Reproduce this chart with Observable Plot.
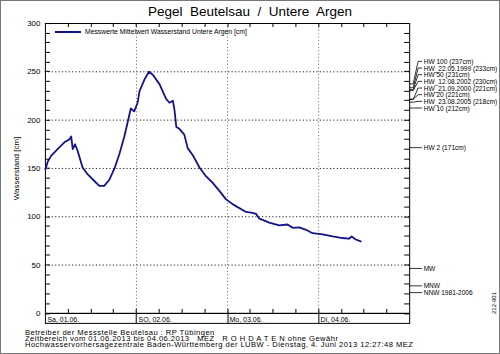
<!DOCTYPE html>
<html><head><meta charset="utf-8">
<script src="https://cdn.jsdelivr.net/npm/d3@7"></script>
<script src="https://cdn.jsdelivr.net/npm/@observablehq/plot@0.6"></script>
<style>
body{margin:0;background:#fff;}
#wrap{position:relative;width:500px;height:354px;box-sizing:border-box;border:1px solid #777;overflow:hidden;font-family:"Liberation Sans",Arial,sans-serif;color:#000;background:#fff;}
#title{position:absolute;left:-1px;width:500px;top:3px;text-align:center;font-size:13.5px;line-height:16px;white-space:pre;}
#chart{position:absolute;left:-1px;top:15px;}
#legend{position:absolute;left:54px;top:26px;height:9px;}
#legend .sw{position:absolute;left:0;top:3.5px;width:26px;height:2.5px;background:#13138a;}
#legend .tx{position:absolute;left:30px;top:0;font-size:6.8px;line-height:9px;white-space:nowrap;}
#footer{position:absolute;left:24px;top:329px;font-size:7.6px;line-height:6.2px;white-space:pre;letter-spacing:0.45px;}
#code{position:absolute;left:490px;top:313px;font-size:6px;transform:rotate(-90deg);transform-origin:0 0;white-space:nowrap;}
</style></head>
<body>
<div id="wrap">
  <div id="title"></div>
  <div id="chart"></div>
  <div id="legend"><div class="sw"></div><div class="tx"></div></div>
  <div id="footer"></div>
  <div id="code"></div>
</div>
<script>
// ---- data ----
const titleText = "Pegel  Beutelsau  /  Untere  Argen";
const seriesName = "Messwerte Mittelwert Wasserstand Untere Argen [cm]";
const yLabel = "Wasserstand [cm]";
const startUTC = Date.UTC(2013, 5, 1); // 01.06.2013 00:00 MEZ
const hours = [0,0.6,1.5,3.2,5,6.3,6.8,7.2,7.8,8.5,9.8,11.1,12.9,14.2,15.5,16.8,18.2,19.5,20.8,22.1,22.5,23.4,24.3,24.8,26.1,27.3,28.3,30.1,31.8,32.7,33.6,34.0,34.5,35.3,36.6,37.5,38.8,40.6,42.3,44.1,45.8,47.6,49.4,50.2,52.9,54.6,55.5,56.4,59,61.6,63.8,65.2,66.9,68.7,70.4,73.1,75.7,78.3,80.0,80.7,81.8,83.1];
const levels = [149,157,163,170,177,180,183,170,175,168,151,144,137,132,132,138,150,165,183,205,212,209,218,230,242,250,247,237,222,218,220,211,193,191,185,171,164,151,142,135,127,118,113,111,105,104,103,98,94,91,92,88.5,89,86.5,83,81.7,79.6,78,77.3,79.6,76.5,74.5];
const refNames = ["HW 100 (237cm)","HW_22.05.1999 (233cm)","HW 50 (231cm)","HW_12.08.2002 (230cm)","HW_21.09.2000 (221cm)","HW 20 (221cm)","HW_23.08.2005 (218cm)","HW 10 (212cm)","HW 2 (171cm)","MW","MNW","NNW 1981-2006"];
const refValues = [237,233,231,230,221,221,218,212,171,46,28,21];
const dayLabels = ["Sa, 01.06.","SO, 02.06.","Mo, 03.06.","Di, 04.06."];
const yTickValues = [0,50,100,150,200,250,300];
const gridValues = [50,100,150,200,250];
const footerLines = [
  "Betreiber der Messstelle Beutelsau : RP Tübingen",
  "Zeitbereich vom 01.06.2013 bis 04.06.2013   MEZ   R O H D A T E N ohne Gewähr",
  "Hochwasservorhersagezentrale Baden-Württemberg der LUBW - Dienstag, 4. Juni 2013 12:27:48 MEZ"
];
const codeText = "212-901";

// ---- build ----
const H = 3600e3;
const series = hours.map((h, i) => ({t: new Date(startUTC + h * H), v: levels[i]}));
const days = dayLabels.map((name, i) => ({t: new Date(startUTC + i * 24 * H), name}));
const dayLines = days.slice(1).map(d => d.t);
const endDate = new Date(startUTC + 4 * 24 * H);

// spread reference labels so they don't overlap
const gap = 6.9;
const refs = refNames.map((name, i) => ({name, v: refValues[i]}));
const sorted = refs.slice().sort((a, b) => b.v - a.v);
for (let i = sorted.length - 1; i >= 0; --i) {
  const below = sorted[i + 1];
  sorted[i].pos = below ? Math.max(sorted[i].v, below.pos + gap) : sorted[i].v;
}

const decor = (index, {x, y}, values, dims) => {
  const {width, height, marginLeft: l, marginRight: r, marginTop: t, marginBottom: b} = dims;
  const R = width - r, B = height - b;
  const g = d3.create("svg:g").attr("fill", "none").attr("stroke", "#000").attr("stroke-width", 1);
  for (const v of d3.range(0, 301, 10)) {
    const yy = Math.round(y(v)) + 0.5;
    g.append("line").attr("x1", l).attr("x2", l + 5).attr("y1", yy).attr("y2", yy);
    g.append("line").attr("x1", R - 5).attr("x2", R).attr("y1", yy).attr("y2", yy);
  }
  for (let h = 6; h < 96; h += 6) {
    const xx = Math.round(x(new Date(startUTC + h * H))) + 0.5;
    g.append("line").attr("x1", xx).attr("x2", xx).attr("y1", t).attr("y2", t + 4);
    g.append("line").attr("x1", xx).attr("x2", xx).attr("y1", B - 4).attr("y2", B);
  }
  g.append("rect").attr("x", l + 0.5).attr("y", B + 0.5).attr("width", R - l).attr("height", 10);
  for (const d of dayLines) {
    const xx = Math.round(x(d)) + 0.5;
    g.append("line").attr("x1", xx).attr("x2", xx).attr("y1", B).attr("y2", B + 10.5);
  }
  for (const d of refs) {
    const y0 = y(d.v), y1 = y(d.pos);
    g.append("path").attr("stroke-width", 0.8)
      .attr("d", `M${R},${y0}H${R + 4}L${R + 9},${y1}H${R + 13}`);
  }
  return g.node();
};

const chart = Plot.plot({
  width: 500,
  height: 314,
  marginLeft: 45,
  marginRight: 90,
  marginTop: 7,
  marginBottom: 16.5,
  style: {fontFamily: "Liberation Sans, Arial, sans-serif", fontSize: "8px", background: "transparent", overflow: "visible", color: "#000"},
  x: {type: "utc", domain: [new Date(startUTC), endDate], axis: null},
  y: {domain: [0, 300], ticks: yTickValues, tickSize: 0, tickPadding: 5, label: yLabel, labelAnchor: "center", labelOffset: 32, labelArrow: "none"},
  marks: [
    Plot.ruleY(gridValues, {stroke: "#222", strokeDasharray: "1.2,2.2", strokeWidth: 1}),
    Plot.ruleX(dayLines, {stroke: "#777", strokeDasharray: "1.2,2.2", strokeWidth: 1}),
    Plot.frame({stroke: "#000"}),
    decor,
    Plot.line(series, {x: "t", y: "v", stroke: "#13138a", strokeWidth: 1.8}),
    Plot.text(days, {x: "t", text: "name", frameAnchor: "bottom", dy: 6, dx: 2, textAnchor: "start", lineAnchor: "middle", fontSize: 7}),
    Plot.text(refs, {y: "pos", text: "name", frameAnchor: "right", dx: 14, textAnchor: "start", fontSize: 6.6})
  ]
});
document.getElementById("chart").appendChild(chart);
document.getElementById("title").textContent = titleText;
document.querySelector("#legend .tx").textContent = seriesName;
document.getElementById("footer").textContent = footerLines.join("\n");
document.getElementById("code").textContent = codeText;
</script>
</body></html>
